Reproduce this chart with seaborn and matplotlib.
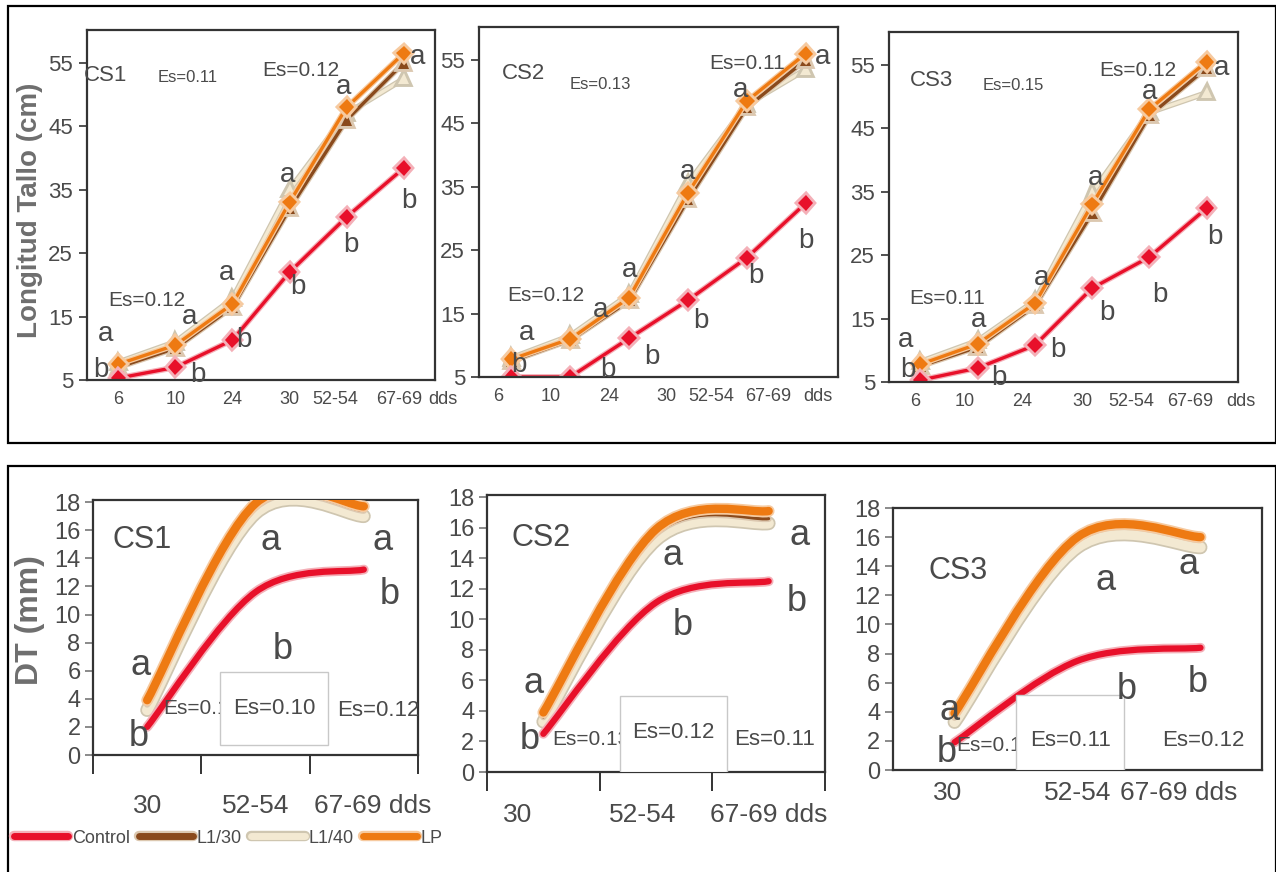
import numpy as np
import pandas as pd
import matplotlib
matplotlib.use("Agg")
import matplotlib.pyplot as plt
import matplotlib.patheffects as pe
from matplotlib.path import Path
from matplotlib.patches import PathPatch, Rectangle
from matplotlib.lines import Line2D
from matplotlib import font_manager
import seaborn as sns

# ---------------------------------------------------------------- data
treatments = ["Control", "L1/30", "L1/40", "LP"]
top_days = ["6", "10", "24", "30", "52-54", "67-69"]
bottom_days = ["30", "52-54", "67-69"]

# stem length (cm), days after sowing
cs1_len_control = [5.3, 7.0, 11.3, 22.0, 30.7, 38.4]
cs1_len_l130 = [7.0, 10.0, 16.5, 32.0, 46.0, 55.0]
cs1_len_l140 = [7.8, 11.0, 17.8, 35.0, 47.0, 52.5]
cs1_len_lp = [7.5, 10.5, 17.0, 33.0, 48.0, 56.5]

cs2_len_control = [5.0, 5.0, 11.1, 17.1, 23.8, 32.4]
cs2_len_l130 = [7.5, 10.8, 17.0, 33.0, 47.5, 55.0]
cs2_len_l140 = [8.0, 11.5, 18.0, 35.5, 48.0, 53.5]
cs2_len_lp = [7.8, 11.0, 17.5, 34.0, 48.5, 56.0]

cs3_len_control = [5.3, 7.2, 10.8, 19.8, 24.7, 32.4]
cs3_len_l130 = [7.5, 10.5, 17.0, 31.6, 47.0, 54.5]
cs3_len_l140 = [8.2, 11.5, 17.8, 34.8, 47.5, 50.6]
cs3_len_lp = [7.8, 11.0, 17.4, 33.0, 48.0, 55.5]

# stem diameter DT (mm)
cs1_dt_control = [2.0, 11.6, 13.2]
cs1_dt_l130 = [3.6, 17.6, 17.4]
cs1_dt_l140 = [3.2, 17.2, 17.0]
cs1_dt_lp = [3.9, 17.9, 17.7]

cs2_dt_control = [2.5, 11.1, 12.5]
cs2_dt_l130 = [3.6, 15.6, 16.6]
cs2_dt_l140 = [3.3, 15.2, 16.3]
cs2_dt_lp = [3.9, 15.9, 17.1]

cs3_dt_control = [1.9, 7.5, 8.4]
cs3_dt_l130 = [3.6, 15.8, 15.8]
cs3_dt_l140 = [3.3, 15.3, 15.3]
cs3_dt_lp = [3.9, 16.0, 16.0]

# ---------------------------------------------------------------- style
sns.set_theme(style="white")
_names = {f.name for f in font_manager.fontManager.ttflist}
NARROW = "Liberation Sans Narrow" if "Liberation Sans Narrow" in _names else "Liberation Sans"
plt.rcParams["font.family"] = [NARROW, "DejaVu Sans"]
TXT = "#4a4a4a"
SPINE = "#333333"

colors = {"Control": "#e8102a", "L1/30": "#8a4a1c", "L1/40": "#f3e9d2", "LP": "#ee7a12"}
halos = {"Control": "#f4b0b8", "L1/30": "#dcc8b0", "L1/40": "#cfc6b0", "LP": "#f6caa0"}
markers = {"Control": "D", "L1/30": "^", "L1/40": "^", "LP": "D"}
draw_order = ["L1/40", "L1/30", "LP", "Control"]

W, H = 1276, 872
fig = plt.figure(figsize=(W / 100, H / 100), dpi=100)


def px_axes(left, top, right, bottom):
    return fig.add_axes([left / W, 1 - bottom / H, (right - left) / W, (bottom - top) / H])


def style_spines(ax):
    for s in ax.spines.values():
        s.set_visible(True)
        s.set_color(SPINE)
        s.set_linewidth(1.6)


# ---------------------------------------------------------------- top row
def draw_top(ax, series, label_shift, dds_x, notes):
    rows = []
    for name in treatments:
        for i, v in enumerate(series[name]):
            rows.append({"pos": i, "value": v, "trat": name})
    df = pd.DataFrame(rows)
    sns.lineplot(data=df, x="pos", y="value", hue="trat", style="trat",
                 hue_order=draw_order, style_order=draw_order,
                 palette=colors, markers=markers, dashes=False,
                 linewidth=2.4, markersize=8, markeredgewidth=0,
                 legend=False, sort=False, ax=ax)
    for line, name in zip(ax.lines, draw_order):
        line.set_path_effects([pe.Stroke(linewidth=4.2, foreground=halos[name]), pe.Normal()])
    ax.set_xlim(-0.55, 5.55)
    ax.set_ylim(5, 60.2)
    ax.set_yticks(range(5, 60, 10))
    ax.set_yticklabels([str(v) for v in range(5, 60, 10)], fontsize=16, color=TXT)
    ax.set_xticks([i + s for i, s in enumerate(label_shift)])
    ax.set_xticklabels(top_days, fontsize=13, color=TXT)
    ax.tick_params(axis="x", length=0, pad=8)
    ax.tick_params(axis="y", length=6, width=1.2, color=SPINE, direction="out", pad=4, left=True)
    ax.set_xlabel("")
    ax.set_ylabel("")
    ax.text(dds_x, -0.055, "dds", transform=ax.get_xaxis_transform(), ha="center", va="center",
            fontsize=13, color=TXT, clip_on=False)
    style_spines(ax)
    for txt, x, y, size in notes:
        ax.text(x, y, txt, fontsize=size, color=TXT, ha="center", va="center")


top_panels = [
    (px_axes(87, 30, 435, 380),
     {"Control": cs1_len_control, "L1/30": cs1_len_l130, "L1/40": cs1_len_l140, "LP": cs1_len_lp},
     [0, 0, 0, 0, -0.2, -0.07], 5.68,
     [("CS1", -0.22, 53.0, 16), ("Es=0.11", 1.22, 52.7, 12), ("Es=0.12", 3.2, 53.8, 15),
      ("Es=0.12", 0.49, 17.6, 15),
      ("a", -0.23, 12.2, 20), ("b", -0.31, 6.6, 20), ("a", 1.25, 14.9, 20), ("b", 1.4, 5.8, 20),
      ("a", 1.9, 21.9, 20), ("b", 2.2, 11.3, 20), ("a", 2.96, 37.3, 20), ("b", 3.14, 19.6, 20),
      ("a", 3.95, 51.2, 20), ("b", 4.08, 26.3, 20), ("a", 5.24, 55.9, 20), ("b", 5.09, 33.3, 20)]),
    (px_axes(479, 27, 838, 377),
     {"Control": cs2_len_control, "L1/30": cs2_len_l130, "L1/40": cs2_len_l140, "LP": cs2_len_lp},
     [-0.22, -0.34, -0.34, -0.37, -0.6, -0.64], 5.2,
     [("CS2", 0.2, 52.8, 16), ("Es=0.13", 1.51, 51.2, 12), ("Es=0.11", 4.0, 54.4, 15),
      ("Es=0.12", 0.59, 17.9, 15),
      ("a", 0.25, 11.9, 20), ("b", 0.13, 6.9, 20), ("a", 1.51, 15.5, 20), ("b", 1.64, 6.1, 20),
      ("a", 2.01, 21.8, 20), ("b", 2.38, 8.1, 20), ("a", 2.99, 37.4, 20), ("b", 3.22, 13.9, 20),
      ("a", 3.89, 50.2, 20), ("b", 4.16, 21.0, 20), ("a", 5.28, 55.5, 20), ("b", 5.0, 26.5, 20)]),
    (px_axes(889, 32, 1238, 382),
     {"Control": cs3_len_control, "L1/30": cs3_len_l130, "L1/40": cs3_len_l140, "LP": cs3_len_lp},
     [-0.1, -0.22, -0.22, -0.17, -0.31, -0.29], 5.6,
     [("CS3", 0.2, 52.6, 16), ("Es=0.15", 1.63, 51.8, 12), ("Es=0.12", 3.8, 54.2, 15),
      ("Es=0.11", 0.47, 18.2, 15),
      ("a", -0.26, 11.6, 20), ("b", -0.22, 6.9, 20), ("a", 1.02, 14.8, 20), ("b", 1.37, 5.6, 20),
      ("a", 2.11, 21.4, 20), ("b", 2.4, 10.0, 20), ("a", 3.06, 37.2, 20), ("b", 3.25, 15.9, 20),
      ("a", 4.0, 50.7, 20), ("b", 4.19, 18.7, 20), ("a", 5.26, 54.5, 20), ("b", 5.14, 27.9, 20)]),
]
for ax, series, shift, dds_x, notes in top_panels:
    draw_top(ax, series, shift, dds_x, notes)


# ---------------------------------------------------------------- bottom row
def smooth_path(xs, ys):
    """Smoothed line through the points (cubic Bezier segments)."""
    pts = np.column_stack([xs, ys]).astype(float)
    n = len(pts)
    verts, codes = [pts[0]], [Path.MOVETO]
    for i in range(n - 1):
        p_prev = pts[i - 1] if i > 0 else pts[i]
        p_next = pts[i + 2] if i + 2 < n else pts[i + 1]
        verts += [pts[i] + (pts[i + 1] - p_prev) / 6, pts[i + 1] - (p_next - pts[i]) / 6, pts[i + 1]]
        codes += [Path.CURVE4] * 3
    return Path(verts, codes)


bottom_lw = {"L1/40": 7.5, "LP": 6.0, "L1/30": 2.2, "Control": 4.5}


def draw_bottom(ax, series, ymax, label_shift, label_pad, show_ticks, notes, box, partial):
    x = np.arange(len(bottom_days))
    for name in draw_order:
        patch = PathPatch(smooth_path(x, series[name]), facecolor="none", edgecolor=colors[name],
                          lw=bottom_lw[name], capstyle="round", transform=ax.transData,
                          zorder=3)
        patch.set_path_effects([pe.Stroke(linewidth=bottom_lw[name] + 2.5, foreground=halos[name]),
                                pe.Normal()])
        ax.add_patch(patch)
    ax.set_xlim(-0.5, 2.5)
    ax.set_ylim(0, ymax)
    ax.set_yticks(range(0, 19, 2))
    ax.set_yticklabels([str(v) for v in range(0, 19, 2)], fontsize=17, color=TXT)
    ax.tick_params(axis="y", length=6, width=1.2, color="#777777", direction="out", pad=3, left=True)
    ax.set_xticks([-0.5, 0.5, 1.5, 2.5])
    ax.set_xticklabels([])
    ax.tick_params(axis="x", which="major", length=14 if show_ticks else 0, width=1.4,
                   color=SPINE, direction="out", bottom=True)
    ax.set_xticks([i + s for i, s in enumerate(label_shift)], minor=True)
    ax.set_xticklabels(bottom_days[:-1] + [bottom_days[-1] + " dds"], minor=True,
                       fontsize=19, color=TXT)
    ax.tick_params(axis="x", which="minor", length=0, pad=label_pad)
    style_spines(ax)
    ptxt, px, py = partial
    ax.text(px, py, ptxt, fontsize=15, color=TXT, ha="center", va="center", zorder=4)
    bx0, by0, bx1, by1 = box[:4]
    ax.add_patch(Rectangle((bx0, by0), bx1 - bx0, by1 - by0, facecolor="white",
                           edgecolor="#c8c8c8", lw=1.0, zorder=5))
    ax.text((bx0 + bx1) / 2, box[4], box[5], fontsize=16, color=TXT, ha="center",
            va="center", zorder=6)
    for txt, tx, ty, size in notes:
        ax.text(tx, ty, txt, fontsize=size, color=TXT, ha="center", va="center", zorder=6)


bottom_panels = [
    (px_axes(93, 500, 418, 755),
     {"Control": cs1_dt_control, "L1/30": cs1_dt_l130, "L1/40": cs1_dt_l140, "LP": cs1_dt_lp},
     18.15, [0, 0, 0.08], 28, True,
     [("CS1", -0.05, 15.3, 22), ("a", 1.14, 15.3, 26), ("a", 2.17, 15.3, 26),
      ("b", 2.24, 11.4, 26), ("b", 1.25, 7.5, 26), ("a", -0.06, 6.4, 26), ("b", -0.08, 1.3, 26),
      ("Es=0.12", 2.13, 3.2, 16)],
     (0.67, 0.7, 1.67, 5.9, 3.3, "Es=0.10"), ("Es=0.1", 0.45, 3.3)),
    (px_axes(487, 495, 825, 772),
     {"Control": cs2_dt_control, "L1/30": cs2_dt_l130, "L1/40": cs2_dt_l140, "LP": cs2_dt_lp},
     18.15, [-0.23, -0.12, 0.0], 22, True,
     [("CS2", -0.02, 15.3, 22), ("a", 1.15, 14.2, 26), ("a", 2.27, 15.5, 26),
      ("b", 1.24, 9.6, 26), ("b", 2.25, 11.2, 26), ("a", -0.09, 5.8, 26), ("b", -0.12, 2.1, 26),
      ("Es=0.11", 2.05, 2.1, 16)],
     (0.68, 0.0, 1.63, 5.0, 2.6, "Es=0.12"), ("Es=0.13", 0.42, 2.1)),
    (px_axes(893, 508, 1262, 770),
     {"Control": cs3_dt_control, "L1/30": cs3_dt_l130, "L1/40": cs3_dt_l140, "LP": cs3_dt_lp},
     18.0, [-0.06, 0.0, -0.18], 8, False,
     [("CS3", 0.03, 13.7, 22), ("a", 1.23, 13.0, 26), ("a", 1.9, 14.1, 26),
      ("b", 1.4, 5.5, 26), ("b", 1.98, 6.0, 26), ("a", -0.04, 4.1, 26), ("b", -0.06, 1.2, 26),
      ("Es=0.12", 2.02, 2.06, 16)],
     (0.5, 0.0, 1.38, 5.15, 2.06, "Es=0.11"), ("Es=0.1", 0.28, 1.7)),
]
for ax, series, ymax, shift, pad, ticks, notes, box, partial in bottom_panels:
    draw_bottom(ax, series, ymax, shift, pad, ticks, notes, box, partial)

# ---------------------------------------------------------------- figure furniture
fig.add_artist(Rectangle((8 / W, 1 - 443 / H), (W - 8) / W, 437 / H, transform=fig.transFigure,
                         fill=False, lw=1.6, ec="black"))
fig.add_artist(Rectangle((8 / W, -0.05), (W - 8) / W, 1 - 466 / H + 0.05, transform=fig.transFigure,
                         fill=False, lw=1.6, ec="black"))

fig.text(30 / W, 1 - 210 / H, "Longitud Tallo (cm)", rotation=90, ha="center", va="center",
         fontsize=20, fontweight="bold", color="#6e6e6e")
fig.text(30 / W, 1 - 620 / H, "DT (mm)", rotation=90, ha="center", va="center",
         fontsize=23, fontweight="bold", color="#6e6e6e")

handles = [Line2D([], [], color=colors[n], lw=5,
                  path_effects=[pe.Stroke(linewidth=7.5, foreground=halos[n]), pe.Normal()])
           for n in treatments]
fig.legend(handles, treatments, loc="center left", bbox_to_anchor=(14 / W, 1 - 838 / H),
           ncol=4, frameon=False, handlelength=3.0, handletextpad=0.2, columnspacing=0.5,
           fontsize=13, labelcolor=TXT, borderaxespad=0, borderpad=0)

fig.savefig("out.png", dpi=100)
